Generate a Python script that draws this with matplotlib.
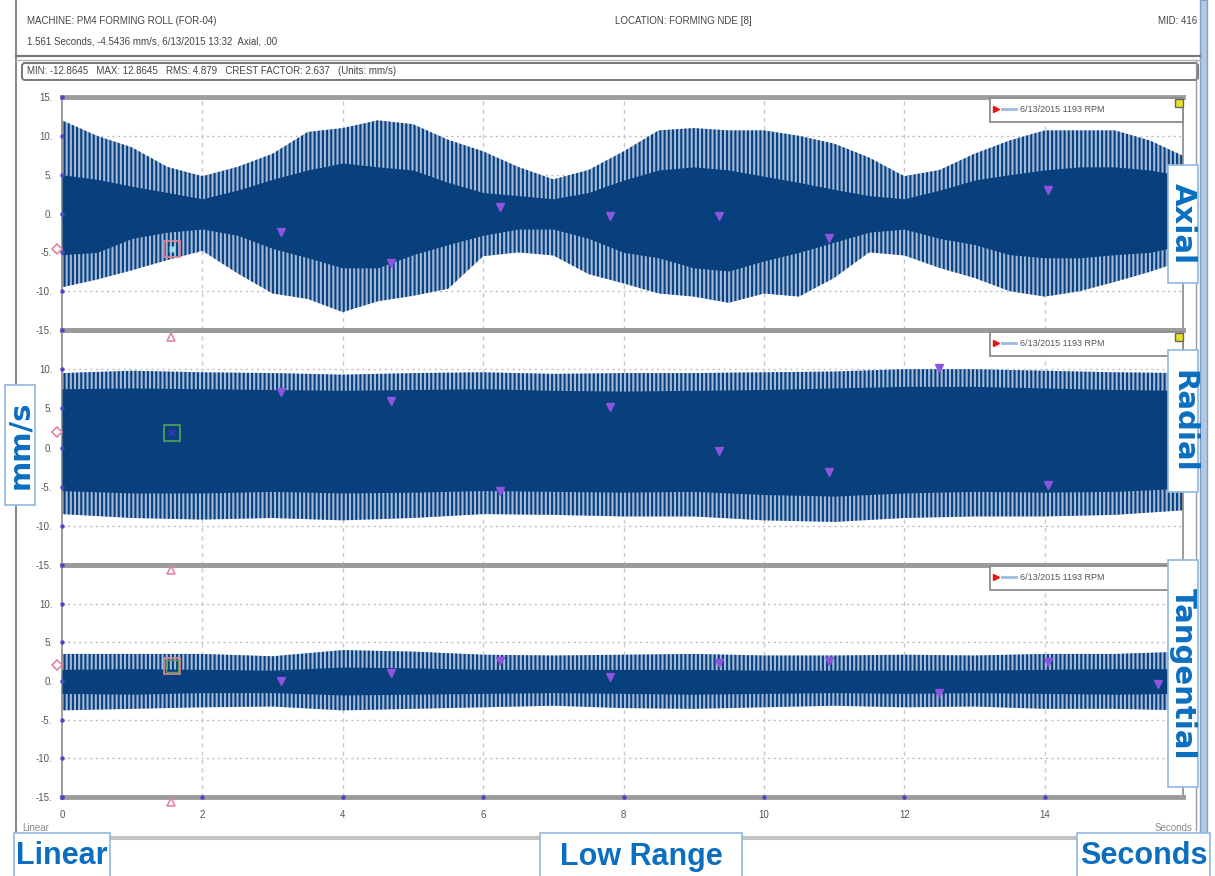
import numpy as np
import matplotlib
matplotlib.use("Agg")
import matplotlib.pyplot as plt
from matplotlib.patches import Rectangle, FancyBboxPatch

W, H = 1215, 876

# envelope readings (mm/s)
t_axial = np.arange(0, 16.01, 0.5)
axial_spike_hi = [12, 10, 8.5, 6, 4.8, 6, 7.7, 10.5, 11, 12, 11.5, 9.5, 8, 6, 4.4, 5.6, 8,
                  10.7, 11, 10.7, 10.7, 10, 9, 7.2, 4.8, 5.6, 7.7, 9.4, 10.7, 10.7, 10.7, 9.4, 7.3]
axial_core_hi = [5, 4.4, 3.5, 2.7, 1.9, 3, 4.4, 5.6, 6.5, 6, 5.6, 4, 2.7, 2.3, 1.9, 2.7, 4.3,
                 5.6, 6, 5.6, 4.8, 4, 3.1, 2.3, 1.9, 3, 4.3, 5, 5.6, 6, 6, 5.6, 4.8]
axial_core_lo = [-5.3, -5, -3.2, -2.4, -2, -2.8, -4.5, -5.7, -7, -7, -5.3, -4, -2.8, -2, -2, -3.2, -5,
                 -5.7, -7, -7.4, -6.1, -5, -3.7, -2.4, -2, -3.2, -4, -5.3, -5.7, -5.7, -5.3, -5, -4]
axial_spike_lo = [-9.5, -8.5, -7.3, -6, -4.8, -7.7, -10.3, -11, -12.7, -11.3, -10.6, -9.7, -5.5, -5, -5.4,
                  -7.8, -9, -10.3, -10.7, -11.5, -10.3, -10.7, -8.3, -5, -5.4, -7, -8.3, -10, -10.7,
                  -10, -8.8, -7.5, -6]

t_flat = np.arange(0, 16.01, 1.0)
radial_spike_hi = [9.5, 9.8, 9.6, 9.5, 9.3, 9.5, 9.6, 9.4, 9.5, 9.5, 9.6, 9.7, 10, 10, 9.8, 9.6, 9.5]
radial_core_hi = [7.5, 7.6, 7.5, 7.4, 7.3, 7.4, 7.5, 7.3, 7.2, 7.3, 7.4, 7.6, 7.8, 7.8, 7.6, 7.4, 7.3]
radial_core_lo = [-5.5, -5.8, -5.8, -5.6, -5.8, -5.7, -5.5, -5.6, -5.7, -5.6, -6, -6.2, -5.8, -5.6, -5.7, -5.6, -5.2]
radial_spike_lo = [-8.5, -9, -9.2, -9, -9.3, -9, -8.5, -8.6, -8.8, -8.8, -9.3, -9.5, -9, -8.8, -8.8, -8.6, -8]

tang_spike_hi = [3.5, 3.5, 3.5, 3.2, 4, 3.8, 3.4, 3.3, 3.4, 3.5, 3.3, 3.3, 3.4, 3.3, 3.5, 3.5, 3.8]
tang_core_hi = [1.5, 1.6, 1.5, 1.4, 1.8, 1.7, 1.5, 1.5, 1.5, 1.5, 1.4, 1.4, 1.4, 1.4, 1.5, 1.6, 1.6]
tang_core_lo = [-1.6, -1.7, -1.5, -1.5, -1.8, -1.7, -1.6, -1.5, -1.6, -1.7, -1.6, -1.5, -1.6, -1.5, -1.6, -1.7, -1.6]
tang_spike_lo = [-3.8, -3.6, -3.4, -3.3, -3.8, -3.6, -3.4, -3.2, -3.5, -3.6, -3.4, -3.2, -3.4, -3.3, -3.6, -3.6, -3.8]

# harmonic cursor markers (every 1.561 s)
cursor_t = [3.122, 4.683, 6.244, 7.805, 9.366, 10.927, 12.488, 14.049, 15.61]
axial_cursor = [-2.4, -6.4, 0.9, -0.3, -0.3, -3.1, None, 3.0, None]
radial_cursor = [7.1, 5.9, -5.5, 5.2, -0.4, -3.1, 10.2, -4.8, None]
tang_cursor = [0.0, 1.0, 2.6, 0.5, 2.3, 2.6, -1.5, 2.4, -0.4]
cursor_val = [-4.6, 1.8, 2.0]

y_ticks = [15, 10, 5, 0, -5, -10, -15]
x_ticks = [0, 2, 4, 6, 8, 10, 12, 14]
legend_text = "6/13/2015 1193 RPM"

NAVY = "#083f7d"
LABEL_BLUE = "#0b6ebf"
GRAY_TXT = "#444444"

plt.rcParams['hatch.linewidth'] = 1.5
plt.rcParams['font.family'] = ['Liberation Sans', 'DejaVu Sans']


def box(x0, y0, x1, y1):
    return [x0 / W, 1 - y1 / H, (x1 - x0) / W, (y1 - y0) / H]


fig = plt.figure(figsize=(W / 100, H / 100), dpi=100)
fig.patch.set_facecolor("white")

# background layer in pixel coordinates
bg = fig.add_axes([0, 0, 1, 1], zorder=0)
bg.set_xlim(0, W)
bg.set_ylim(H, 0)
bg.axis("off")

bg.plot([16, 16], [0, 838], color="#8a8a8a", lw=1.5)
bg.plot([1196, 1196], [60, 830], color="#9a9a9a", lw=1)
bg.plot([16, 1200], [56, 56], color="#777777", lw=1.6)
bg.plot([16, 1200], [59.5, 59.5], color="#b0b0b0", lw=1)
bg.add_patch(FancyBboxPatch((22, 63), 1176, 17, boxstyle="round,pad=0,rounding_size=3",
                            fc="white", ec="#777777", lw=1.4))
bg.plot([16, 1200], [838, 838], color="#c4c4c4", lw=3)
bg.add_patch(Rectangle((1200, 0), 7, 842, fc="#b3c9e3", ec="#7f9fc6", lw=1))

bg.text(27, 21, "MACHINE: PM4 FORMING ROLL (FOR-04)", fontsize=7, color=GRAY_TXT, va="center")
bg.text(27, 41, "1.561 Seconds, -4.5436 mm/s, 6/13/2015 13:32  Axial, .00", fontsize=7,
        color=GRAY_TXT, va="center")
bg.text(615, 21, "LOCATION: FORMING NDE [8]", fontsize=7, color=GRAY_TXT, va="center")
bg.text(1197, 21, "MID: 416", fontsize=7, color=GRAY_TXT, va="center", ha="right")
bg.text(27, 71.5, "MIN: -12.8645   MAX: 12.8645   RMS: 4.879   CREST FACTOR: 2.637   (Units: mm/s)",
        fontsize=7, color=GRAY_TXT, va="center")
bg.text(22, 828, "Linear", fontsize=7, color="#888888", va="center")
bg.text(1192, 828, "Seconds", fontsize=7, color="#888888", va="center", ha="right")

panels = [
    (t_axial, axial_spike_hi, axial_core_hi, axial_core_lo, axial_spike_lo, axial_cursor, (97, 330)),
    (t_flat, radial_spike_hi, radial_core_hi, radial_core_lo, radial_spike_lo, radial_cursor, (330, 565)),
    (t_flat, tang_spike_hi, tang_core_hi, tang_core_lo, tang_spike_lo, tang_cursor, (565, 797)),
]

axes = []
for i, (t, shi, chi, clo, slo, cur, (ytop, ybot)) in enumerate(panels):
    ax = fig.add_axes(box(62, ytop, 1183, ybot), zorder=2)
    ax.set_facecolor("none")
    ax.set_xlim(0, 15.97)
    ax.set_ylim(-15, 15)

    # spiky outer band: light fill with dense vertical hatch, then the solid core
    ax.fill_between(t, slo, shi, facecolor="#a3bad8", edgecolor=NAVY, hatch="||||",
                    linewidth=0, zorder=2)
    ax.fill_between(t, clo, chi, color=NAVY, linewidth=0, zorder=3)

    for v in [10, 5, -5, -10]:
        ax.axhline(v, color="#bdbdbd", lw=1, ls=(0, (1.5, 2.5)), zorder=1)
    for v in x_ticks[1:]:
        ax.axvline(v, color="#c8c8c8", lw=1, ls=(0, (3, 3)), zorder=1)

    ct = [c for c, v in zip(cursor_t, cur) if v is not None]
    cv = [v for v in cur if v is not None]
    ax.plot(ct, cv, "v", ms=6, color="#8c55dd", zorder=5, clip_on=False)

    ticks = y_ticks if i == 0 else y_ticks[1:]
    ax.set_yticks(ticks)
    ax.set_yticklabels([f"{v}." for v in ticks], fontsize=7, color="#555555")
    ax.plot([0] * len(y_ticks), y_ticks, "o", ms=2.2, color="#4848c8", clip_on=False, zorder=6)
    ax.tick_params(axis="y", length=0, pad=7)

    ax.set_xticks(x_ticks)
    if i == 2:
        ax.set_xticklabels([str(v) for v in x_ticks], fontsize=7, color="#555555")
        ax.tick_params(axis="x", length=0, pad=9)
        ax.plot(x_ticks, [-15] * len(x_ticks), "o", ms=2.2, color="#4848c8", clip_on=False, zorder=6)
    else:
        ax.set_xticklabels([])
        ax.tick_params(axis="x", length=0)

    for s in ["top", "bottom"]:
        ax.spines[s].set_color("#9c9c9c")
        ax.spines[s].set_linewidth(3.5)
    for s in ["left", "right"]:
        ax.spines[s].set_color("#8a8a8a")
        ax.spines[s].set_linewidth(1.2)
    axes.append(ax)

# cursor boxes at 1.561 s
axes[0].plot([1.561], [cursor_val[0]], "s", ms=11, mfc="none", mec="#e2849e", mew=1.2, zorder=6)
axes[0].plot([1.561], [cursor_val[0]], "s", ms=5, mfc="#9fd6e8", mec="none", zorder=6)
axes[1].plot([1.561], [cursor_val[1]], "s", ms=11, mfc="none", mec="#5aa25a", mew=1.2, zorder=6)
axes[1].plot([1.561], [cursor_val[1]], "x", ms=5, color="#3535c0", mew=1.5, zorder=6)
axes[2].plot([1.561], [cursor_val[2]], "s", ms=11, mfc="none", mec="#e2849e", mew=1.2, zorder=6)
axes[2].plot([1.561], [cursor_val[2]], "s", ms=8, mfc="none", mec="#5aa25a", mew=1, zorder=6)

# overlay layer (legend boxes, edge markers, blue labels)
ov = fig.add_axes([0, 0, 1, 1], zorder=10)
ov.set_facecolor("none")
ov.set_xlim(0, W)
ov.set_ylim(H, 0)
ov.axis("off")

for ytop, icon in [(98, True), (332, True), (566, False)]:
    ov.add_patch(Rectangle((990, ytop), 193, 24, fc="white", ec="#8c8c8c", lw=1.3))
    ov.plot([996], [ytop + 11], ">", ms=5, color="#ee1111")
    ov.plot([1002, 1016], [ytop + 11, ytop + 11], color="#9dbcdc", lw=2)
    ov.text(1020, ytop + 11, legend_text, fontsize=6.5, color="#555555", va="center")
    if icon:
        ov.plot([1179], [ytop + 5], "s", ms=6, mfc="#e8e020", mec="#666666", mew=1)

for yy in [337, 570, 802]:
    ov.plot([171], [yy], "^", ms=6, mfc="none", mec="#e2849e", mew=1.2)
for yy in [249, 432, 665]:
    ov.plot([57], [yy], "D", ms=5, mfc="none", mec="#e2849e", mew=1.2)

wide = dict(family=["DejaVu Sans"], weight="bold", color=LABEL_BLUE)
narrow = dict(family=["Liberation Sans", "DejaVu Sans"], weight="bold", color=LABEL_BLUE)

labels = [
    ("Axial", (1168, 165, 1198, 283), -90, 21, wide),
    ("Radial", (1168, 350, 1198, 492), -90, 21, wide),
    ("Tangential", (1168, 560, 1198, 787), -90, 21, wide),
    ("mm/s", (5, 385, 35, 505), 90, 21, wide),
    ("Linear", (14, 833, 110, 878), 0, 22, narrow),
    ("Low Range", (540, 833, 742, 878), 0, 22, narrow),
    ("Seconds", (1077, 833, 1210, 878), 0, 22, narrow),
]
for txt, (x0, y0, x1, y1), rot, fs, style in labels:
    ov.add_patch(Rectangle((x0, y0), x1 - x0, y1 - y0, fc="white", ec="#8fb8e0", lw=1.2, clip_on=False))
    ov.text((x0 + x1) / 2, (y0 + y1) / 2 + (1 if rot == 0 else 0), txt, rotation=rot, fontsize=fs,
            ha="center", va="center", **style)

fig.savefig("out.png", dpi=100)
